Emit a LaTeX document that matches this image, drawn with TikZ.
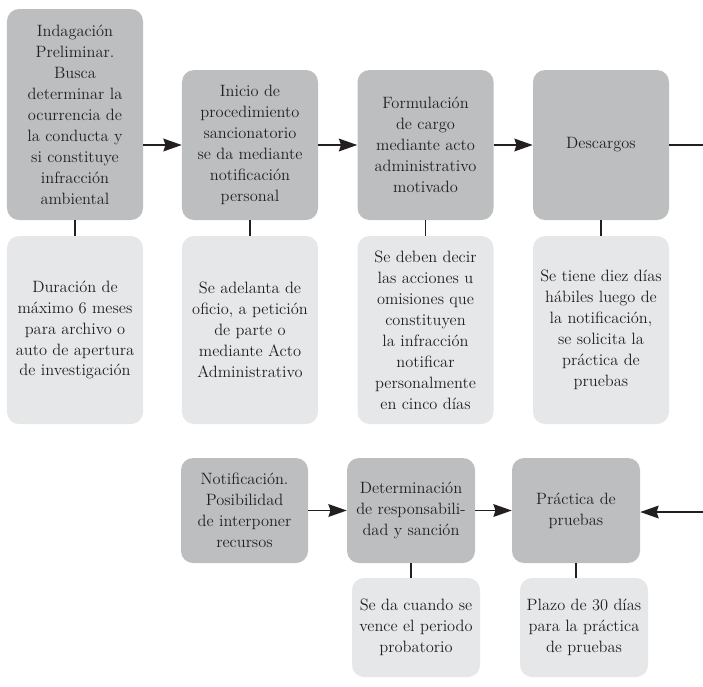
\documentclass[tikz,border=0pt]{standalone}
\usetikzlibrary{arrows.meta}
\definecolor{pasogris}{HTML}{BDBEC0}
\definecolor{notagris}{HTML}{E6E7E8}
\definecolor{tinta}{HTML}{231F20}

\begin{document}
\begin{tikzpicture}[x=0.03cm, y=-0.03cm, font=\fontsize{14}{17.9}\selectfont, text=tinta,
    paso/.style={rectangle, rounded corners=0.36cm, fill=pasogris, align=center, inner sep=0pt, minimum width=4.08cm, minimum height=4.5cm},
    nota/.style={paso, fill=notagris, minimum height=5.64cm},
    flecha/.style={-{Stealth[length=0.55cm, width=0.38cm, inset=0.06cm]}, line width=1.5pt, draw=tinta},
    enlace/.style={line width=1.5pt, draw=tinta}]
    \useasboundingbox (0,0) rectangle (703,686);

    % fila superior
    \node [paso, minimum height=6.33cm] (indagacion) at (75,114.5) {Indagación\\ Preliminar.\\ Busca\\ determinar la\\ ocurrencia de\\ la conducta y\\ si constituye\\ infracción\\ ambiental};
    \node [paso] (inicio) at (250,145) {Inicio de\\ procedimiento\\ sancionatorio\\ se da mediante\\ notificación\\ personal};
    \node [paso] (formulacion) at (425.5,145) {Formulación\\ de cargo\\ mediante acto\\ administrativo\\ motivado};
    \node [paso] (descargos) at (601,145) {Descargos};

    \node [nota] (duracion) at (75,330) {Duración de\\ máximo 6 meses\\ para archivo o\\ auto de apertura\\ de investigación};
    \node [nota] (oficio) at (250,330) {Se adelanta de\\ oficio, a petición\\ de parte o\\ mediante Acto\\ Administrativo};
    \node [nota] (acciones) at (425.5,330) {Se deben decir\\ las acciones u\\ omisiones que\\ constituyen\\ la infracción\\ notificar\\ personalmente\\ en cinco días};
    \node [nota] (diez) at (601,330) {Se tiene diez días\\ hábiles luego de\\ la notificación,\\ se solicita la\\ práctica de\\ pruebas};

    % fila inferior
    \node [paso, minimum width=3.81cm, minimum height=3.15cm] (notificacion) at (244.5,510.5) {Notificación.\\ Posibilidad\\ de interponer\\ recursos};
    \node [paso, minimum width=3.84cm, minimum height=3.15cm] (determinacion) at (411,510.5) {Determinación\\ de responsabili-\\ dad y sanción};
    \node [paso, minimum width=3.84cm, minimum height=3.15cm] (practica) at (576,510.5) {Práctica de\\ pruebas};

    \node [nota, minimum width=3.84cm, minimum height=2.97cm] (vence) at (416,627.5) {Se da cuando se\\ vence el periodo\\ probatorio};
    \node [nota, minimum width=3.84cm, minimum height=2.97cm] (plazo) at (584,627.5) {Plazo de 30 días\\ para la práctica\\ de pruebas};

    \coordinate (salida) at (703,145);
    \coordinate (entrada) at (703,512);

    \draw [flecha] (inicio.west -| indagacion.east) -- (inicio);
    \draw [flecha] (inicio) -- (formulacion);
    \draw [flecha] (formulacion) -- (descargos);
    \draw [enlace] (descargos) -- (salida);
    \draw [flecha] (entrada) -- (practica.east |- entrada);
    \draw [flecha] (notificacion) -- (determinacion);
    \draw [flecha] (determinacion) -- (practica);

    \foreach \arriba/\abajo in {indagacion/duracion, inicio/oficio, formulacion/acciones, descargos/diez}
        \draw [enlace] (\arriba) -- (\abajo);
    \draw [enlace] (determinacion.south) -- (determinacion.south |- vence.north);
    \draw [enlace] (practica.south) -- (practica.south |- plazo.north);

\end{tikzpicture}
\end{document}
